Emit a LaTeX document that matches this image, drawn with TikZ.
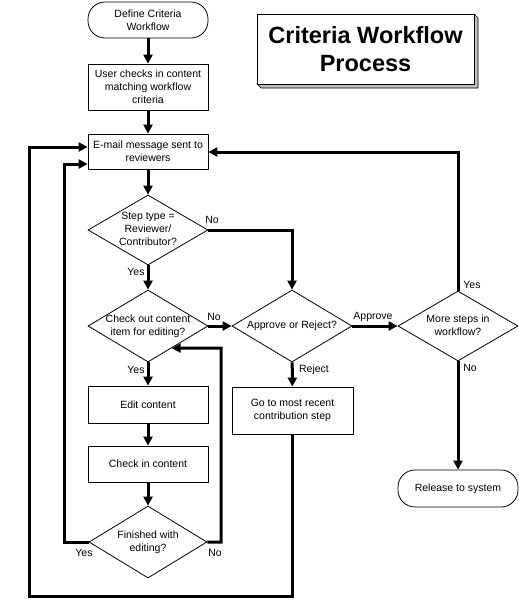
\documentclass[tikz,border=0pt]{standalone}
\usepackage{fontspec}
\setmainfont{Liberation Sans}
\usetikzlibrary{shapes.geometric,arrows.meta,calc}
\newcommand{\dtx}[1]{\makebox[0pt]{\begin{tabular}{@{}c@{}}#1\end{tabular}}}
\begin{document}
\begin{tikzpicture}[x=1pt,y=-1pt,
  every node/.style={font=\fontsize{10.5}{13}\selectfont},
  box/.style={draw,line width=0.8pt,rectangle,minimum width=120pt,inner sep=1pt,align=center,fill=white},
  term/.style={box,rounded corners=17pt},
  dec/.style={draw,line width=0.8pt,diamond,minimum width=120pt,minimum height=72pt,inner sep=0pt,fill=white},
  conn/.style={line width=3pt,-{Triangle[length=9pt,width=9pt]}},
  lbl/.style={inner sep=0pt}]
\fill[white] (0,0) rectangle (519,600);
\useasboundingbox (0,0) rectangle (519,600);

% title with shadow
\filldraw[fill=gray!50,draw=black,line width=0.6pt] (474,14) -- (478,18) -- (478,88) -- (261,88) -- (257,84) -- (474,84) -- cycle;
\node[draw,fill=white,line width=0.8pt,minimum width=217pt,minimum height=70pt,align=center,
  font=\fontsize{23.5}{28}\selectfont\bfseries] (title) at (365.5,49) {Criteria Workflow\\Process};

% left column
\node[term,minimum height=36pt] (def) at (148,20) {Define Criteria\\Workflow};
\node[box,minimum height=46pt] (user) at (148,87) {User checks in content\\matching workflow\\criteria};
\node[box,minimum height=35pt] (email) at (148,151.5) {E-mail message sent to\\reviewers};
\node[dec,minimum height=70pt] (step) at (148,230) {\dtx{Step type =\\Reviewer/\\Contributor?}};
\node[dec] (chk) at (148,326) {\dtx{Check out content\\item for editing?}};
\node[box,minimum height=37pt] (edit) at (148,404.5) {Edit content};
\node[box,minimum height=36pt] (chin) at (148,464) {Check in content};
\node[dec,minimum width=118pt] (fin) at (148,542) {\dtx{Finished with\\editing?}};

% middle and right
\node[dec] (appr) at (292,326) {\dtx{Approve or Reject?}};
\node[box,minimum width=121pt,minimum height=47pt] (goto) at (292.5,410.5) {Go to most recent\\contribution step};
\node[dec,minimum height=70pt] (more) at (458,326) {\dtx{More steps in\\workflow?}};
\node[term,minimum height=37pt] (rel) at (458,488.5) {Release to system};

% entry points on e-mail box
\coordinate (e1) at (email.west |- 0,164);
\coordinate (e2) at (email.west |- 0,147);
\coordinate (e3) at (email.east |- 0,152);
\coordinate (cb) at (chk.-43.4);

% connectors
\draw[conn] (def) -- (user);
\draw[conn] (user) -- (email);
\draw[conn] (email) -- (step);
\draw[conn] (step) -- (chk);
\draw[conn] (step.east) -| (appr.north);
\draw[conn] (chk) -- (appr);
\draw[conn] (chk) -- (edit);
\draw[conn] (edit) -- (chin);
\draw[conn] (chin) -- (fin);
\draw[conn] (fin.west) -| (64,164) -- (e1);
\draw[conn] (fin.east) -| (221,348) -- (cb);
\draw[conn] (appr) -- (goto);
\draw[conn] (appr) -- (more);
\draw[conn] (goto.south) |- (29,596) |- (e2);
\draw[conn] (more.north) |- (e3);
\draw[conn] (more) -- (rel);

% labels
\node[lbl] (l1) at (212,220) {No};
\node[lbl] (l2) at (136,272) {Yes};
\node[lbl] (l3) at (214,317) {No};
\node[lbl] (l4) at (136,370) {Yes};
\node[lbl] (l5) at (314,370) {Reject};
\node[lbl] (l6) at (373,317) {Approve};
\node[lbl] (l7) at (472,285) {Yes};
\node[lbl] (l8) at (470,368) {No};
\node[lbl] (l9) at (84,553) {Yes};
\node[lbl] (l10) at (215,553) {No};
\end{tikzpicture}
\end{document}
